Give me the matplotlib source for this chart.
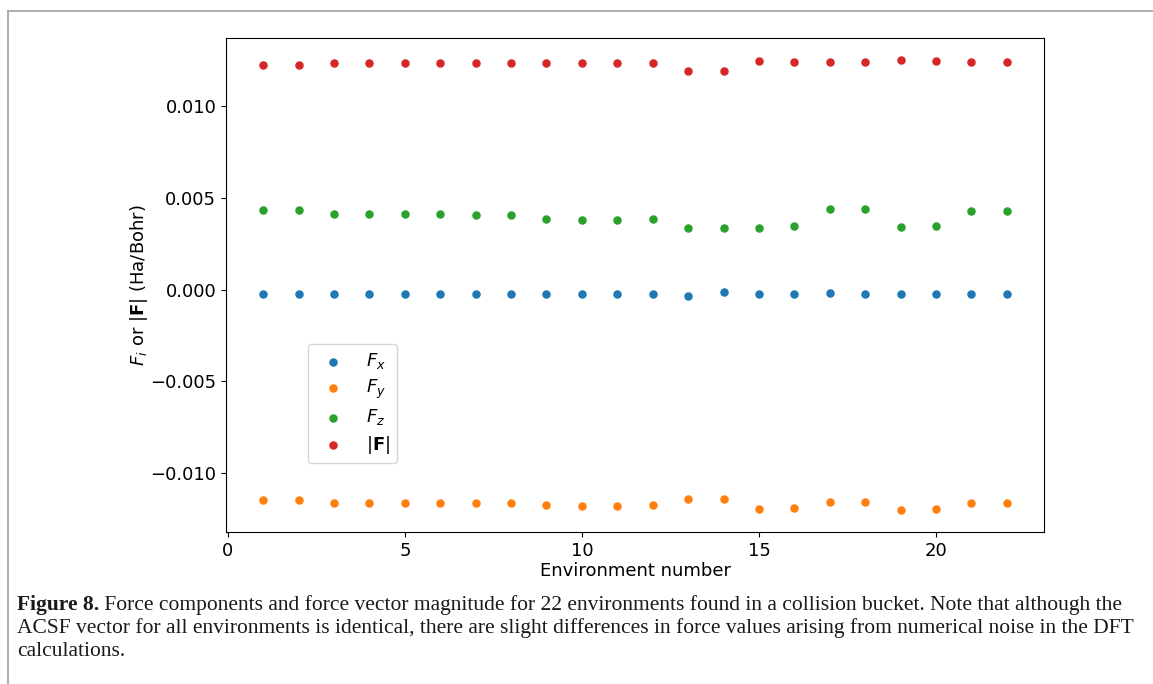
import matplotlib
matplotlib.use('Agg')
import matplotlib.pyplot as plt
from matplotlib.lines import Line2D
import numpy as np

# environment index 1..22
env = list(range(1, 23))

fx = [-0.00024, -0.00024, -0.00024, -0.00024, -0.00024, -0.00024, -0.00024, -0.00024,
      -0.00024, -0.00024, -0.00024, -0.00024, -0.00035, -0.00011, -0.00024, -0.00024,
      -0.00020, -0.00025, -0.00024, -0.00024, -0.00024, -0.00024]
fy = [-0.01147, -0.01147, -0.01164, -0.01164, -0.01166, -0.01166, -0.01167, -0.01167,
      -0.01173, -0.01178, -0.01178, -0.01173, -0.01144, -0.01144, -0.01198, -0.01191,
      -0.01160, -0.01160, -0.01200, -0.01197, -0.01164, -0.01164]
fz = [0.00435, 0.00435, 0.00412, 0.00412, 0.00415, 0.00415, 0.00406, 0.00406,
      0.00384, 0.00381, 0.00381, 0.00384, 0.00339, 0.00339, 0.00339, 0.00346,
      0.00443, 0.00443, 0.00342, 0.00350, 0.00430, 0.00430]
fmag = [0.01228, 0.01228, 0.01235, 0.01235, 0.01238, 0.01238, 0.01237, 0.01237,
        0.01235, 0.01238, 0.01238, 0.01235, 0.01195, 0.01195, 0.01246, 0.01242,
        0.01242, 0.01242, 0.01251, 0.01248, 0.01242, 0.01242]

series = [(fx, '$F_x$', '#1f77b4'),
          (fy, '$F_y$', '#ff7f0e'),
          (fz, '$F_z$', '#2ca02c'),
          (fmag, r'$|\mathbf{F}|$', '#d62728')]

caption_bold = 'Figure 8.'
caption_rest = (' Force components and force vector magnitude for 22 environments found in a collision bucket. '
                'Note that although the')
caption_2 = ('ACSF vector for all environments is identical, there are slight differences in force values '
             'arising from numerical noise in the DFT')
caption_3 = 'calculations.'

fig = plt.figure(figsize=(11.53, 6.84), dpi=100)
ax = fig.add_axes([226 / 1153, 1 - 532 / 684, 818 / 1153, 494 / 684])

for vals, lab, col in series:
    ax.scatter(env, vals, s=26, color=col, label=lab)

ax.tick_params(labelsize=13)
ax.set_xticks([0, 5, 10, 15, 20])
ax.set_yticks([-0.010, -0.005, 0.0, 0.005, 0.010])
ax.set_xlabel('Environment number', fontsize=13, labelpad=2)
ax.set_ylabel(r'$F_i$ or $|\mathbf{F}|$ (Ha/Bohr)', fontsize=13, labelpad=0)
ax.legend(loc='lower left', bbox_to_anchor=(0.1, 0.14), borderaxespad=0, fontsize=13,
          labelspacing=0.35)

# page frame around the figure
fig.add_artist(Line2D([8 / 1153, 1], [1 - 11 / 684, 1 - 11 / 684], color='#a0a0a0', lw=1.2))
fig.add_artist(Line2D([8 / 1153, 8 / 1153], [0, 1 - 11 / 684], color='#a0a0a0', lw=1.2))

# caption
cap_kw = dict(fontsize=15.5, family='Liberation Serif', color='#1a1a1a', va='baseline')
t = fig.text(17 / 1153, 1 - 610 / 684, caption_bold, fontweight='bold', **cap_kw)
fig.canvas.draw()
bb = t.get_window_extent()
fig.text(bb.x1 / 1153, 1 - 610 / 684, caption_rest, **cap_kw)
fig.text(17 / 1153, 1 - 633 / 684, caption_2, **cap_kw)
fig.text(17 / 1153, 1 - 656 / 684, caption_3, **cap_kw)

fig.savefig('out.png', dpi=100)
